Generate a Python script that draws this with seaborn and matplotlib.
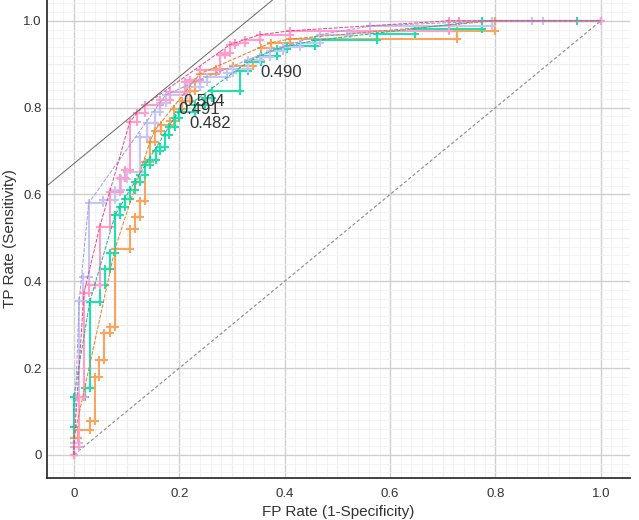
import numpy as np
import pandas as pd
import seaborn as sns
import matplotlib.pyplot as plt
from matplotlib.ticker import MultipleLocator

# ROC points, one pair of lists per model
orange_fpr = [0, 0, 0.008, 0.008, 0.030, 0.030, 0.040, 0.040, 0.047, 0.047, 0.057, 0.057,
              0.068, 0.068, 0.078, 0.078, 0.106, 0.106, 0.116, 0.116, 0.125, 0.125, 0.135,
              0.135, 0.144, 0.144, 0.153, 0.153, 0.165, 0.165, 0.182, 0.182, 0.190, 0.190,
              0.205, 0.205, 0.220, 0.220, 0.230, 0.230, 0.239, 0.239, 0.270, 0.270, 0.302,
              0.302, 0.340, 0.340, 0.355, 0.355, 0.375, 0.375, 0.410, 0.410, 0.727, 0.727,
              0.800, 0.800, 1.0]
orange_tpr = [0, 0.040, 0.040, 0.057, 0.057, 0.078, 0.078, 0.180, 0.180, 0.218, 0.218, 0.280,
              0.280, 0.295, 0.295, 0.475, 0.475, 0.520, 0.520, 0.548, 0.548, 0.586, 0.586,
              0.675, 0.675, 0.720, 0.720, 0.747, 0.747, 0.760, 0.760, 0.770, 0.770, 0.798,
              0.798, 0.815, 0.815, 0.839, 0.839, 0.860, 0.860, 0.878, 0.878, 0.890, 0.890,
              0.897, 0.897, 0.908, 0.908, 0.938, 0.938, 0.950, 0.950, 0.958, 0.958, 0.977,
              0.977, 1.0, 1.0]

teal_fpr = [0, 0, 0, 0.021, 0.021, 0.030, 0.030, 0.049, 0.049, 0.059, 0.059, 0.068, 0.068,
            0.078, 0.078, 0.087, 0.087, 0.097, 0.097, 0.106, 0.106, 0.116, 0.116, 0.125,
            0.125, 0.135, 0.135, 0.144, 0.144, 0.155, 0.155, 0.163, 0.163, 0.172, 0.172,
            0.180, 0.180, 0.191, 0.191, 0.200, 0.200, 0.230, 0.230, 0.249, 0.249, 0.263,
            0.263, 0.315, 0.315, 0.330, 0.330, 0.355, 0.355, 0.385, 0.385, 0.405, 0.405,
            0.458, 0.458, 0.575, 0.575, 0.647, 0.647, 0.774, 0.774, 0.955, 1.0]
teal_tpr = [0, 0.065, 0.134, 0.134, 0.154, 0.154, 0.352, 0.352, 0.391, 0.391, 0.428, 0.428,
            0.464, 0.464, 0.552, 0.552, 0.570, 0.570, 0.590, 0.590, 0.610, 0.610, 0.628,
            0.628, 0.645, 0.645, 0.667, 0.667, 0.680, 0.680, 0.700, 0.700, 0.710, 0.710,
            0.738, 0.738, 0.755, 0.755, 0.777, 0.777, 0.790, 0.790, 0.805, 0.805, 0.823,
            0.823, 0.839, 0.839, 0.885, 0.885, 0.905, 0.905, 0.920, 0.920, 0.935, 0.935,
            0.942, 0.942, 0.955, 0.955, 0.970, 0.970, 0.982, 0.982, 1.0, 1.0, 1.0]

lavender_fpr = [0, 0, 0.010, 0.010, 0.017, 0.017, 0.028, 0.028, 0.055, 0.055, 0.078, 0.078,
                0.090, 0.090, 0.100, 0.100, 0.125, 0.125, 0.139, 0.139, 0.154, 0.154, 0.163,
                0.163, 0.175, 0.175, 0.214, 0.214, 0.239, 0.239, 0.252, 0.252, 0.290, 0.290,
                0.302, 0.302, 0.330, 0.330, 0.353, 0.353, 0.372, 0.372, 0.397, 0.397, 0.429,
                0.429, 0.467, 0.467, 0.524, 0.524, 0.562, 0.562, 0.793, 0.793, 0.870, 0.890,
                1.0]
lavender_tpr = [0, 0.028, 0.028, 0.355, 0.355, 0.410, 0.410, 0.580, 0.580, 0.588, 0.588, 0.610,
                0.610, 0.635, 0.635, 0.652, 0.652, 0.733, 0.733, 0.765, 0.765, 0.790, 0.790,
                0.811, 0.811, 0.830, 0.830, 0.848, 0.848, 0.859, 0.859, 0.871, 0.871, 0.880,
                0.880, 0.890, 0.890, 0.910, 0.910, 0.917, 0.917, 0.930, 0.930, 0.940, 0.940,
                0.950, 0.950, 0.968, 0.968, 0.972, 0.972, 0.988, 0.988, 1.0, 1.0, 1.0,
                1.0]

pink_fpr = [0, 0, 0.010, 0.010, 0.019, 0.019, 0.028, 0.028, 0.040, 0.040, 0.049, 0.049,
            0.068, 0.068, 0.087, 0.087, 0.097, 0.097, 0.106, 0.106, 0.120, 0.120, 0.135,
            0.135, 0.163, 0.163, 0.182, 0.182, 0.210, 0.210, 0.220, 0.220, 0.239, 0.239,
            0.277, 0.277, 0.287, 0.287, 0.296, 0.296, 0.305, 0.305, 0.324, 0.324, 0.353,
            0.353, 0.410, 0.410, 0.712, 0.712, 0.730, 1.0]
pink_tpr = [0, 0.018, 0.018, 0.134, 0.134, 0.373, 0.373, 0.392, 0.392, 0.392, 0.392, 0.525,
            0.525, 0.606, 0.606, 0.638, 0.638, 0.657, 0.657, 0.767, 0.767, 0.788, 0.788,
            0.806, 0.806, 0.818, 0.818, 0.836, 0.836, 0.860, 0.860, 0.864, 0.864, 0.887,
            0.887, 0.922, 0.922, 0.926, 0.926, 0.945, 0.945, 0.949, 0.949, 0.956, 0.956,
            0.968, 0.968, 0.977, 0.977, 1.0, 1.0, 1.0]

# threshold labels next to the chosen points
threshold_labels = ["0.490", "0.504", "0.491", "0.482"]
label_x = [0.353, 0.207, 0.199, 0.220]
label_y = [0.880, 0.813, 0.795, 0.763]

# iso-performance line touches the pink hull here
iso_x, iso_y, iso_slope = 0.135, 0.806, 1.0

models = [
    (orange_fpr, orange_tpr, "#f9a55e", "#ea7a2a"),
    (teal_fpr, teal_tpr, "#22dfae", "#14b88e"),
    (lavender_fpr, lavender_tpr, "#c6c6f6", "#9c9ce2"),
    (pink_fpr, pink_tpr, "#ff9dcd", "#e8457f"),
]


def roc_hull(fpr, tpr):
    # upper-left convex hull of the ROC points
    pts = sorted(set(zip(fpr, tpr)))
    hull = []
    for p in pts:
        while len(hull) >= 2:
            (x1, y1), (x2, y2) = hull[-2], hull[-1]
            cross = (x2 - x1) * (p[1] - y1) - (y2 - y1) * (p[0] - x1)
            if cross >= 0:
                hull.pop()
            else:
                break
        hull.append(p)
    return [h[0] for h in hull], [h[1] for h in hull]


sns.set_style("white")
plt.rcParams['font.family'] = ['Liberation Sans', 'DejaVu Sans']

fig = plt.figure(figsize=(6.39, 5.2), dpi=100)
ax = fig.add_axes([0.0736, 0.081, 0.912, 0.919])

xmin, xmax = -0.051, 1.055
ymin, ymax = -0.053, 1.048
ax.set_xlim(xmin, xmax)
ax.set_ylim(ymin, ymax)

# grid: fine every 0.02, medium every 0.1, strong every 0.2
ax.xaxis.set_major_locator(MultipleLocator(0.2))
ax.yaxis.set_major_locator(MultipleLocator(0.2))
ax.xaxis.set_minor_locator(MultipleLocator(0.02))
ax.yaxis.set_minor_locator(MultipleLocator(0.02))
ax.grid(which="minor", color="#f1f1f1", lw=0.6, zorder=0)
ax.grid(which="major", color="#cfcfcf", lw=1.0, zorder=0)
for v in np.arange(0.1, 1.05, 0.2):
    ax.axvline(v, color="#e2e2e2", lw=0.8, zorder=0)
    ax.axhline(v, color="#e2e2e2", lw=0.8, zorder=0)
ax.set_axisbelow(True)

# chance diagonal
sns.lineplot(x=[0, 1], y=[0, 1], ax=ax, color="#8a8a8a", lw=0.8,
             linestyle=(0, (3, 2)), sort=False, estimator=None)

for fpr, tpr, col, hull_col in models:
    sns.lineplot(x=fpr, y=tpr, ax=ax, color=col, lw=1.5, sort=False, estimator=None,
                 marker="+", markersize=6, markeredgewidth=1.5, markeredgecolor=col,
                 linestyle="-")
for fpr, tpr, col, hull_col in models:
    hx, hy = roc_hull(fpr, tpr)
    sns.lineplot(x=hx, y=hy, ax=ax, color=hull_col, lw=0.7, sort=False, estimator=None,
                 linestyle=(0, (4, 1.5)))

# iso-performance line
iso_xs = np.array([xmin, xmax])
iso_ys = iso_y + iso_slope * (iso_xs - iso_x)
sns.lineplot(x=iso_xs, y=iso_ys, ax=ax, color="#666666", lw=0.7, sort=False, estimator=None)

for txt, tx, ty in zip(threshold_labels, label_x, label_y):
    ax.text(tx, ty, txt, fontsize=12, color="#333333", va="center", ha="left")

ax.set_xticks([0, 0.2, 0.4, 0.6, 0.8, 1.0])
ax.set_xticklabels(["0", "0.2", "0.4", "0.6", "0.8", "1.0"])
ax.set_yticks([0, 0.2, 0.4, 0.6, 0.8, 1.0])
ax.set_yticklabels(["0", "0.2", "0.4", "0.6", "0.8", "1.0"])
ax.tick_params(which="both", length=0, labelsize=9.5, labelcolor="#333333")
ax.tick_params(axis="x", pad=7)
ax.tick_params(axis="y", pad=4)

ax.set_xlabel("FP Rate (1-Specificity)", fontsize=11, color="#333333")
ax.set_ylabel("TP Rate (Sensitivity)", fontsize=11, color="#333333")
ax.xaxis.set_label_coords(0.5, -0.056)
ax.yaxis.set_label_coords(-0.051, 0.5)

for s in ["top", "right"]:
    ax.spines[s].set_visible(False)
for s in ["left", "bottom"]:
    ax.spines[s].set_color("#333333")
    ax.spines[s].set_linewidth(1.3)

fig.savefig("out.png", dpi=100)
